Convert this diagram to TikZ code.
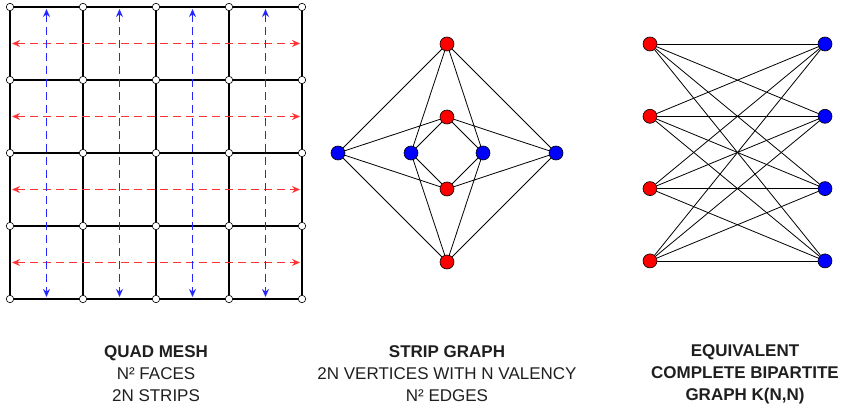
\documentclass[tikz,border=0pt]{standalone}
\usepackage{fontspec}
\setmainfont{Liberation Sans}
\usetikzlibrary{arrows.meta}

\begin{document}
\begin{tikzpicture}[>={Stealth[length=8pt,width=7pt]},x=1pt,y=-1pt]
  \tikzset{
    meshedge/.style={line width=1.7pt,black},
    corner/.style={circle,draw=black,fill=white,line width=0.6pt,inner sep=0pt,minimum size=7.5pt},
    redvert/.style={circle,draw=black,fill=red,line width=0.6pt,inner sep=0pt,minimum size=14pt},
    bluevert/.style={circle,draw=black,fill=blue,line width=0.6pt,inner sep=0pt,minimum size=14pt},
    link/.style={line width=0.8pt,black},
    hstrip/.style={<->,red!80,line width=1.1pt,dash pattern=on 8pt off 5pt},
    vstrip/.style={<->,blue!85,line width=1.1pt,dash pattern=on 8pt off 5pt},
    caption/.style={align=center,text=black!88,font=\fontsize{17}{22}\selectfont}
  }
  \useasboundingbox (0,0) rectangle (841,409);

  % quad mesh
  \begin{scope}
    \foreach \i in {0,...,4}
      \foreach \j in {0,...,4}
        \node[corner] (m\i\j) at ({10+73*\i},{7+73*\j}) {};
    \foreach \i in {0,...,4}
      \foreach \a/\b in {0/1,1/2,2/3,3/4} {
        \draw[meshedge] (m\i\a) -- (m\i\b);
        \draw[meshedge] (m\a\i) -- (m\b\i);
      }
    \foreach \j in {0,...,3} {
      \coordinate (hl\j) at (12,{43.5+73*\j});
      \coordinate (hr\j) at (300,{43.5+73*\j});
      \draw[hstrip] (hl\j) -- (hr\j);
    }
    \foreach \i in {0,...,3} {
      \coordinate (vt\i) at ({46.5+73*\i},9);
      \coordinate (vb\i) at ({46.5+73*\i},297);
      \draw[vstrip] (vt\i) -- (vb\i);
    }
    \node[caption] (meshcap) at (156,374) {\textbf{QUAD MESH}\\N² FACES\\2N STRIPS};
  \end{scope}

  % strip graph
  \begin{scope}
    \node[redvert] (sr1) at (447,44) {};
    \node[redvert] (sr2) at (447,117) {};
    \node[redvert] (sr3) at (447,189) {};
    \node[redvert] (sr4) at (447,262) {};
    \node[bluevert] (sb1) at (338,153) {};
    \node[bluevert] (sb2) at (411,153) {};
    \node[bluevert] (sb3) at (483,153) {};
    \node[bluevert] (sb4) at (556,153) {};
    \foreach \r in {1,...,4}
      \foreach \b in {1,...,4}
        \draw[link] (sr\r) -- (sb\b);
    \node[caption] (stripcap) at (447,374)
      {\textbf{STRIP GRAPH}\\2N VERTICES WITH N VALENCY\\N² EDGES};
  \end{scope}

  % bipartite graph
  \begin{scope}
    \foreach \k in {1,...,4} {
      \node[redvert] (kr\k) at (650,{44+72.3*(\k-1)}) {};
      \node[bluevert] (kb\k) at (825,{44+72.3*(\k-1)}) {};
    }
    \foreach \r in {1,...,4}
      \foreach \b in {1,...,4}
        \draw[link] (kr\r) -- (kb\b);
    \node[caption,font=\bfseries\fontsize{17}{22}\selectfont] (bipcap) at (745,374)
      {EQUIVALENT\\COMPLETE BIPARTITE\\GRAPH K(N,N)};
  \end{scope}
\end{tikzpicture}
\end{document}
